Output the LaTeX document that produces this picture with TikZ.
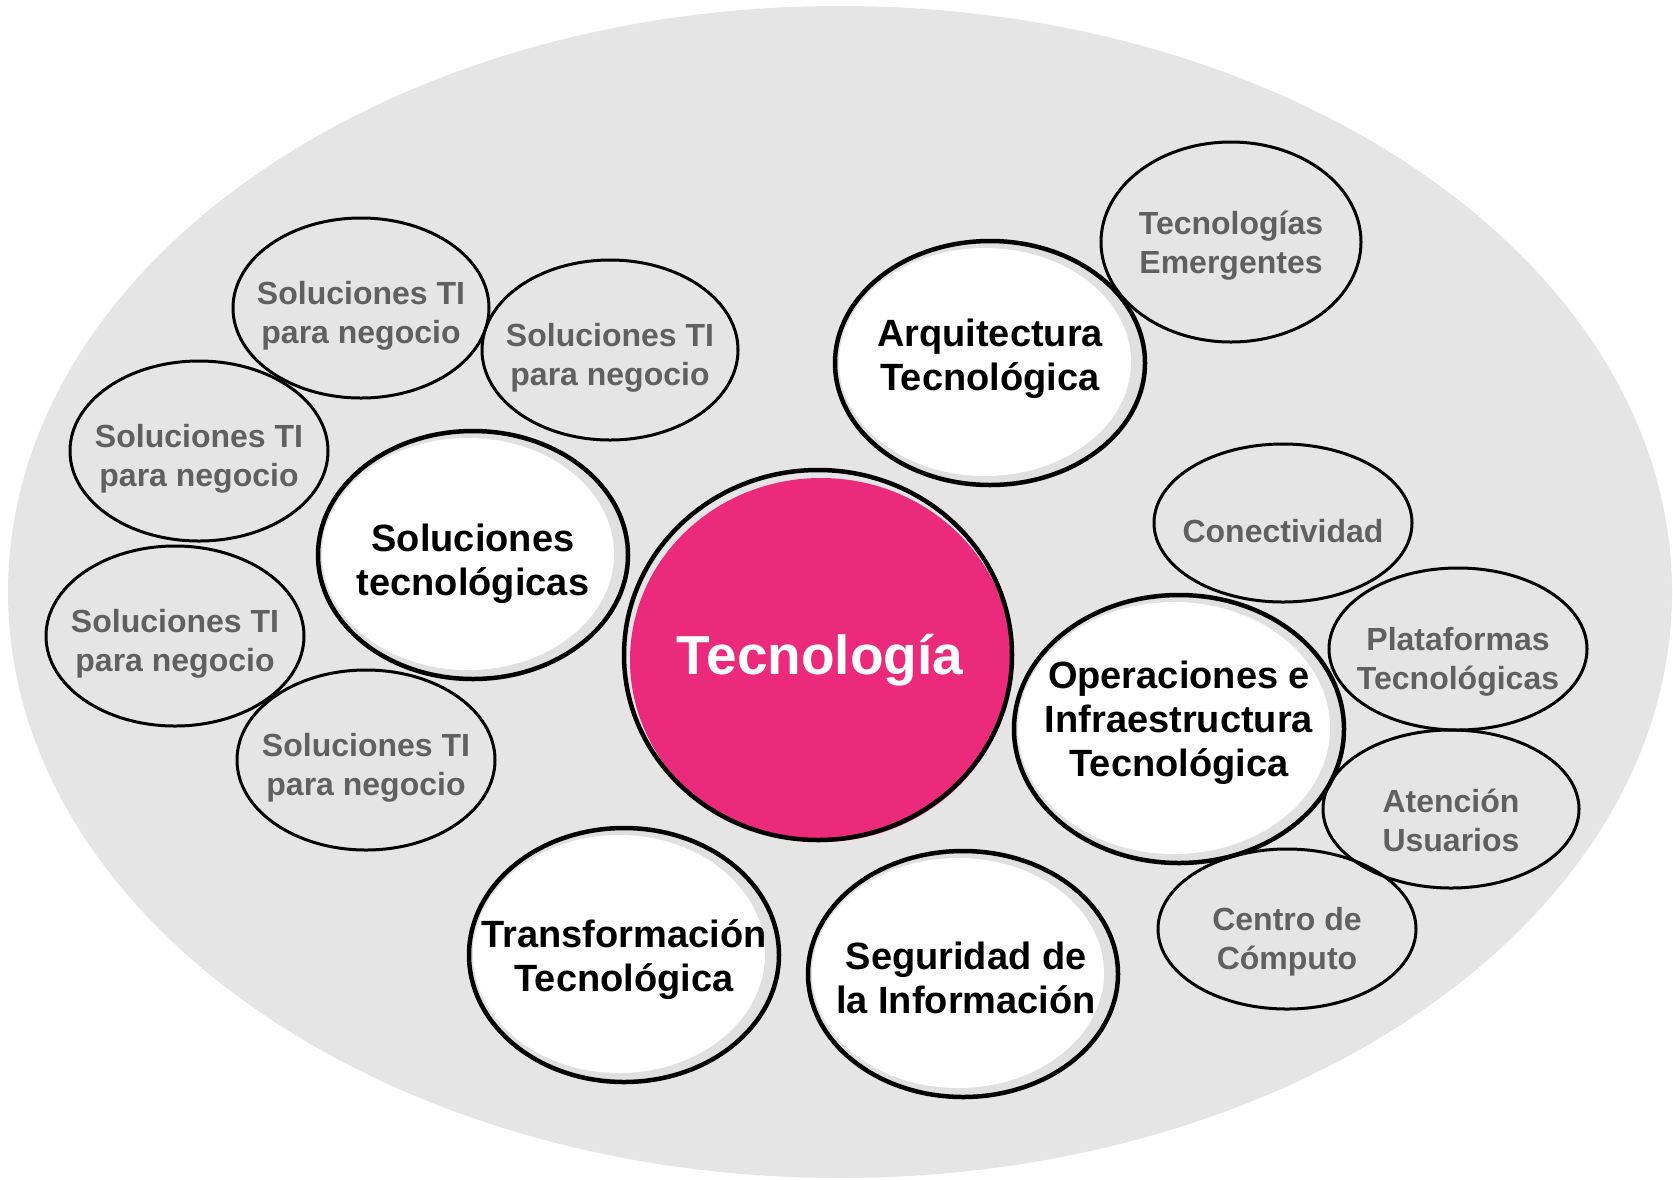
\documentclass[tikz,border=0pt]{standalone}
\usepackage{fontspec}
\setmainfont{Liberation Sans}
\usetikzlibrary{shapes.geometric}
\definecolor{bgc}{HTML}{E5E5E5}
\definecolor{pinkc}{HTML}{EC2A7B}
\definecolor{txtg}{HTML}{606060}
\definecolor{shd}{HTML}{E0E0E0}
\begin{document}
\begin{tikzpicture}[x=1pt,y=-1pt,
  circ/.style n args={2}{ellipse, draw=black, inner sep=0pt, outer sep=0pt, minimum width=#1, minimum height=#2},
  big/.style n args={2}{circ={#1}{#2}, line width=4.5pt, fill=shd,
    path picture={\fill[white] ([shift={(-5pt,1pt)}]path picture bounding box.center) ellipse [x radius=#1/2-9pt, y radius=#2/2-8pt];}},
  small/.style n args={2}{circ={#1}{#2}, line width=3pt},
  bigt/.style={font=\bfseries\fontsize{38}{44}\selectfont, align=center, text=black, inner sep=0pt},
  smallt/.style={font=\bfseries\fontsize{32}{39}\selectfont, align=center, text=txtg, inner sep=0pt},
  maint/.style={font=\bfseries\fontsize{55}{60}\selectfont, align=center, text=white, inner sep=0pt}
]
\useasboundingbox (0,0) rectangle (1673,1179);
\fill[bgc] (840,592) ellipse [x radius=832, y radius=586];

% small grey ellipses
\node[small={256pt}{180pt}] (s1) at (361,308) {};
\node[small={256pt}{180pt}] (s2) at (610,350) {};
\node[small={258pt}{180pt}] (s3) at (199,451) {};
\node[small={258pt}{180pt}] (s4) at (175,636) {};
\node[small={258pt}{180pt}] (s5) at (366,760) {};
\node[small={260pt}{200pt}] (em) at (1231,242) {};
\node[small={258pt}{158pt}] (co) at (1283,523) {};
\node[small={258pt}{162pt}] (pl) at (1458,649) {};
\node[small={256pt}{158pt}] (at) at (1451,809) {};
\node[small={258pt}{160pt}] (ce) at (1287,929) {};

\node[smallt] (s1t) at (361,316) {Soluciones TI\\para negocio};
\node[smallt] (s2t) at (610,358) {Soluciones TI\\para negocio};
\node[smallt] (s3t) at (199,459) {Soluciones TI\\para negocio};
\node[smallt] (s4t) at (175,644) {Soluciones TI\\para negocio};
\node[smallt] (s5t) at (366,768) {Soluciones TI\\para negocio};
\node[smallt] (emt) at (1231,246) {Tecnologías\\Emergentes};
\node[smallt] (cot) at (1283,531) {Conectividad};
\node[smallt] (plt) at (1458,662) {Plataformas\\Tecnológicas};
\node[smallt] (att) at (1451,820) {Atención\\Usuarios};
\node[smallt] (cet) at (1287,942) {Centro de\\Cómputo};

% big white circles
\node[big={310pt}{248pt}] (sol) at (473,555) {};
\node[big={310pt}{244pt}] (arq) at (990,363) {};
\node[big={330pt}{268pt}] (ope) at (1179,729) {};
\node[big={310pt}{254pt}] (tra) at (624,955) {};
\node[big={310pt}{246pt}] (seg) at (963,974) {};

\node[bigt] (solt) at (473,564) {Soluciones\\tecnológicas};
\node[bigt] (arqt) at (990,359) {Arquitectura\\Tecnológica};
\node[bigt] (opet) at (1179,723) {Operaciones e\\Infraestructura\\Tecnológica};
\node[bigt] (trat) at (624,960) {Transformación\\Tecnológica};
\node[bigt] (segt) at (966,978) {Seguridad de\\la Información};

% central pink circle
\fill[pinkc] (821,660) ellipse [x radius=191, y radius=182];
\node[circ={388pt}{370pt}, line width=4.5pt] (tec) at (818,655) {};
\node[maint] (tect) at (820,660) {Tecnología};
\end{tikzpicture}
\end{document}
